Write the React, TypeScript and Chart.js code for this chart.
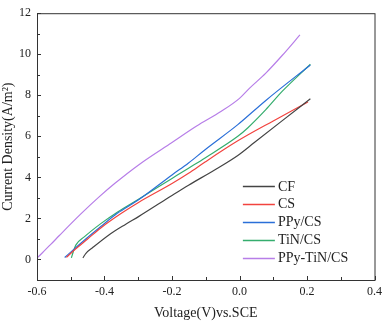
import React, { useEffect, useRef } from "react";
import { Chart, registerables } from "chart.js";

Chart.register(...registerables);

const seriesNames = ["CF", "CS", "PPy/CS", "TiN/CS", "PPy-TiN/CS"];
const seriesColors = ["#444444", "#f2433f", "#2a6fd8", "#35ad6e", "#b77ee8"];

const cfV = [-0.464, -0.455, -0.435, -0.386, -0.337, -0.298, -0.2, -0.151, -0.075, -0.005, 0.044, 0.125, 0.21];
const cfJ = [0.08, 0.3, 0.58, 1.21, 1.72, 2.1, 3.12, 3.62, 4.35, 5.07, 5.7, 6.74, 7.83];

const csV = [-0.513, -0.49, -0.45, -0.41, -0.35, -0.298, -0.2, -0.151, -0.102, -0.005, 0.1, 0.203];
const csJ = [0.1, 0.45, 1.0, 1.55, 2.25, 2.79, 3.7, 4.2, 4.75, 5.78, 6.75, 7.67];

const ppyV = [-0.518, -0.459, -0.41, -0.362, -0.298, -0.2, -0.151, -0.102, -0.005, 0.078, 0.21];
const ppyJ = [0.1, 0.95, 1.62, 2.25, 2.92, 4.12, 4.7, 5.35, 6.57, 7.75, 9.48];

const tinV = [-0.498, -0.493, -0.485, -0.46, -0.41, -0.36, -0.298, -0.2, -0.151, -0.102, -0.005, 0.025, 0.078, 0.127, 0.21];
const tinJ = [0.08, 0.35, 0.7, 1.1, 1.76, 2.33, 2.95, 3.95, 4.45, 4.95, 6.0, 6.42, 7.3, 8.2, 9.51];

const ptcV = [-0.598, -0.56, -0.533, -0.47, -0.416, -0.37, -0.298, -0.2, -0.127, -0.054, 0.0, 0.03, 0.078, 0.127, 0.179];
const ptcJ = [0.1, 0.72, 1.18, 2.22, 3.05, 3.7, 4.62, 5.7, 6.5, 7.22, 7.85, 8.35, 9.08, 9.95, 10.94];

const xTickValues = [-0.6, -0.4, -0.2, 0.0, 0.2, 0.4];
const xMinorValues = [-0.5, -0.3, -0.1, 0.1, 0.3];
const yTickValues = [0, 2, 4, 6, 8, 10, 12];
const yMinorValues = [-1, 1, 3, 5, 7, 9, 11];

const allV = [cfV, csV, ppyV, tinV, ptcV];
const allJ = [cfJ, csJ, ppyJ, tinJ, ptcJ];

const FONT = "'Liberation Serif', 'Times New Roman', serif";

export default function App() {
  const ref = useRef<HTMLCanvasElement | null>(null);
  useEffect(() => {
    document.body.style.margin = "0";
    const canvas = ref.current;
    if (!canvas) return;

    const framePlugin = {
      id: "frame",
      afterDraw(chart: any) {
        const { ctx, chartArea: a, scales } = chart;
        const xs = scales.x;
        const ys = scales.y;
        ctx.save();
        ctx.strokeStyle = "#333333";
        ctx.lineWidth = 1;
        ctx.strokeRect(a.left + 0.5, a.top + 0.5, a.right - a.left, a.bottom - a.top);
        ctx.beginPath();
        xTickValues.forEach((v) => {
          const px = Math.round(xs.getPixelForValue(v)) + 0.5;
          ctx.moveTo(px, a.bottom);
          ctx.lineTo(px, a.bottom - 4);
        });
        xMinorValues.forEach((v) => {
          const px = Math.round(xs.getPixelForValue(v)) + 0.5;
          ctx.moveTo(px, a.bottom);
          ctx.lineTo(px, a.bottom - 3);
        });
        yTickValues.forEach((v) => {
          const py = Math.round(ys.getPixelForValue(v)) + 0.5;
          ctx.moveTo(a.left, py);
          ctx.lineTo(a.left + 4, py);
        });
        yMinorValues.forEach((v) => {
          const py = Math.round(ys.getPixelForValue(v)) + 0.5;
          ctx.moveTo(a.left, py);
          ctx.lineTo(a.left + 3, py);
        });
        ctx.stroke();

        // legend
        const lx = a.left + (a.right - a.left) * 0.61;
        let ly = a.top + (a.bottom - a.top) * 0.649;
        ctx.font = `14px ${FONT}`;
        ctx.textBaseline = "middle";
        ctx.textAlign = "left";
        seriesNames.forEach((name, i) => {
          ctx.strokeStyle = seriesColors[i];
          ctx.lineWidth = 1.3;
          ctx.beginPath();
          ctx.moveTo(lx, Math.round(ly) + 0.5);
          ctx.lineTo(lx + 32, Math.round(ly) + 0.5);
          ctx.stroke();
          ctx.fillStyle = "#222222";
          ctx.fillText(name, lx + 35, ly + 0.5);
          ly += 17.8;
        });
        ctx.restore();
      },
    };

    const chart = new Chart(canvas, {
      type: "line",
      data: {
        datasets: seriesNames.map((name, i) => ({
          label: name,
          data: allV[i].map((v, k) => ({ x: v, y: allJ[i][k] })),
          borderColor: seriesColors[i],
          backgroundColor: seriesColors[i],
          borderWidth: 1.2,
          pointRadius: 0,
          cubicInterpolationMode: "monotone" as const,
          fill: false,
        })),
      },
      options: {
        animation: false,
        responsive: false,
        maintainAspectRatio: false,
        layout: { padding: { top: 5, right: 8, left: 0, bottom: 0 } },
        plugins: {
          legend: { display: false },
          tooltip: { enabled: false },
        },
        scales: {
          x: {
            type: "linear",
            min: -0.6,
            max: 0.4,
            afterBuildTicks: (s: any) => {
              s.ticks = xTickValues.map((v) => ({ value: v }));
            },
            afterFit: (s: any) => {
              s.height = 42;
            },
            grid: { display: false, drawTicks: false },
            border: { display: false },
            ticks: {
              color: "#222222",
              font: { family: FONT, size: 12 },
              padding: 5,
              maxRotation: 0,
              callback: (v: any) => Number(v).toFixed(1),
            },
            title: {
              display: true,
              text: "Voltage(V)vs.SCE",
              color: "#222222",
              font: { family: FONT, size: 14 },
              padding: { top: 2, bottom: 0 },
            },
          },
          y: {
            type: "linear",
            min: -1,
            max: 12,
            afterBuildTicks: (s: any) => {
              s.ticks = yTickValues.map((v) => ({ value: v }));
            },
            afterFit: (s: any) => {
              s.width = 37;
            },
            grid: { display: false, drawTicks: false },
            border: { display: false },
            ticks: {
              color: "#222222",
              font: { family: FONT, size: 12 },
              padding: 6,
              callback: (v: any) => String(v),
            },
            title: {
              display: true,
              text: "Current Density(A/m²)",
              color: "#222222",
              font: { family: FONT, size: 14 },
              padding: { top: 0, bottom: 2 },
            },
          },
        },
      },
      plugins: [framePlugin],
    });
    return () => chart.destroy();
  }, []);

  return (
    <div style={{ width: 387, height: 322, position: "relative", background: "#fff" }}>
      <canvas ref={ref} width={387} height={322} style={{ display: "block" }} />
    </div>
  );
}
